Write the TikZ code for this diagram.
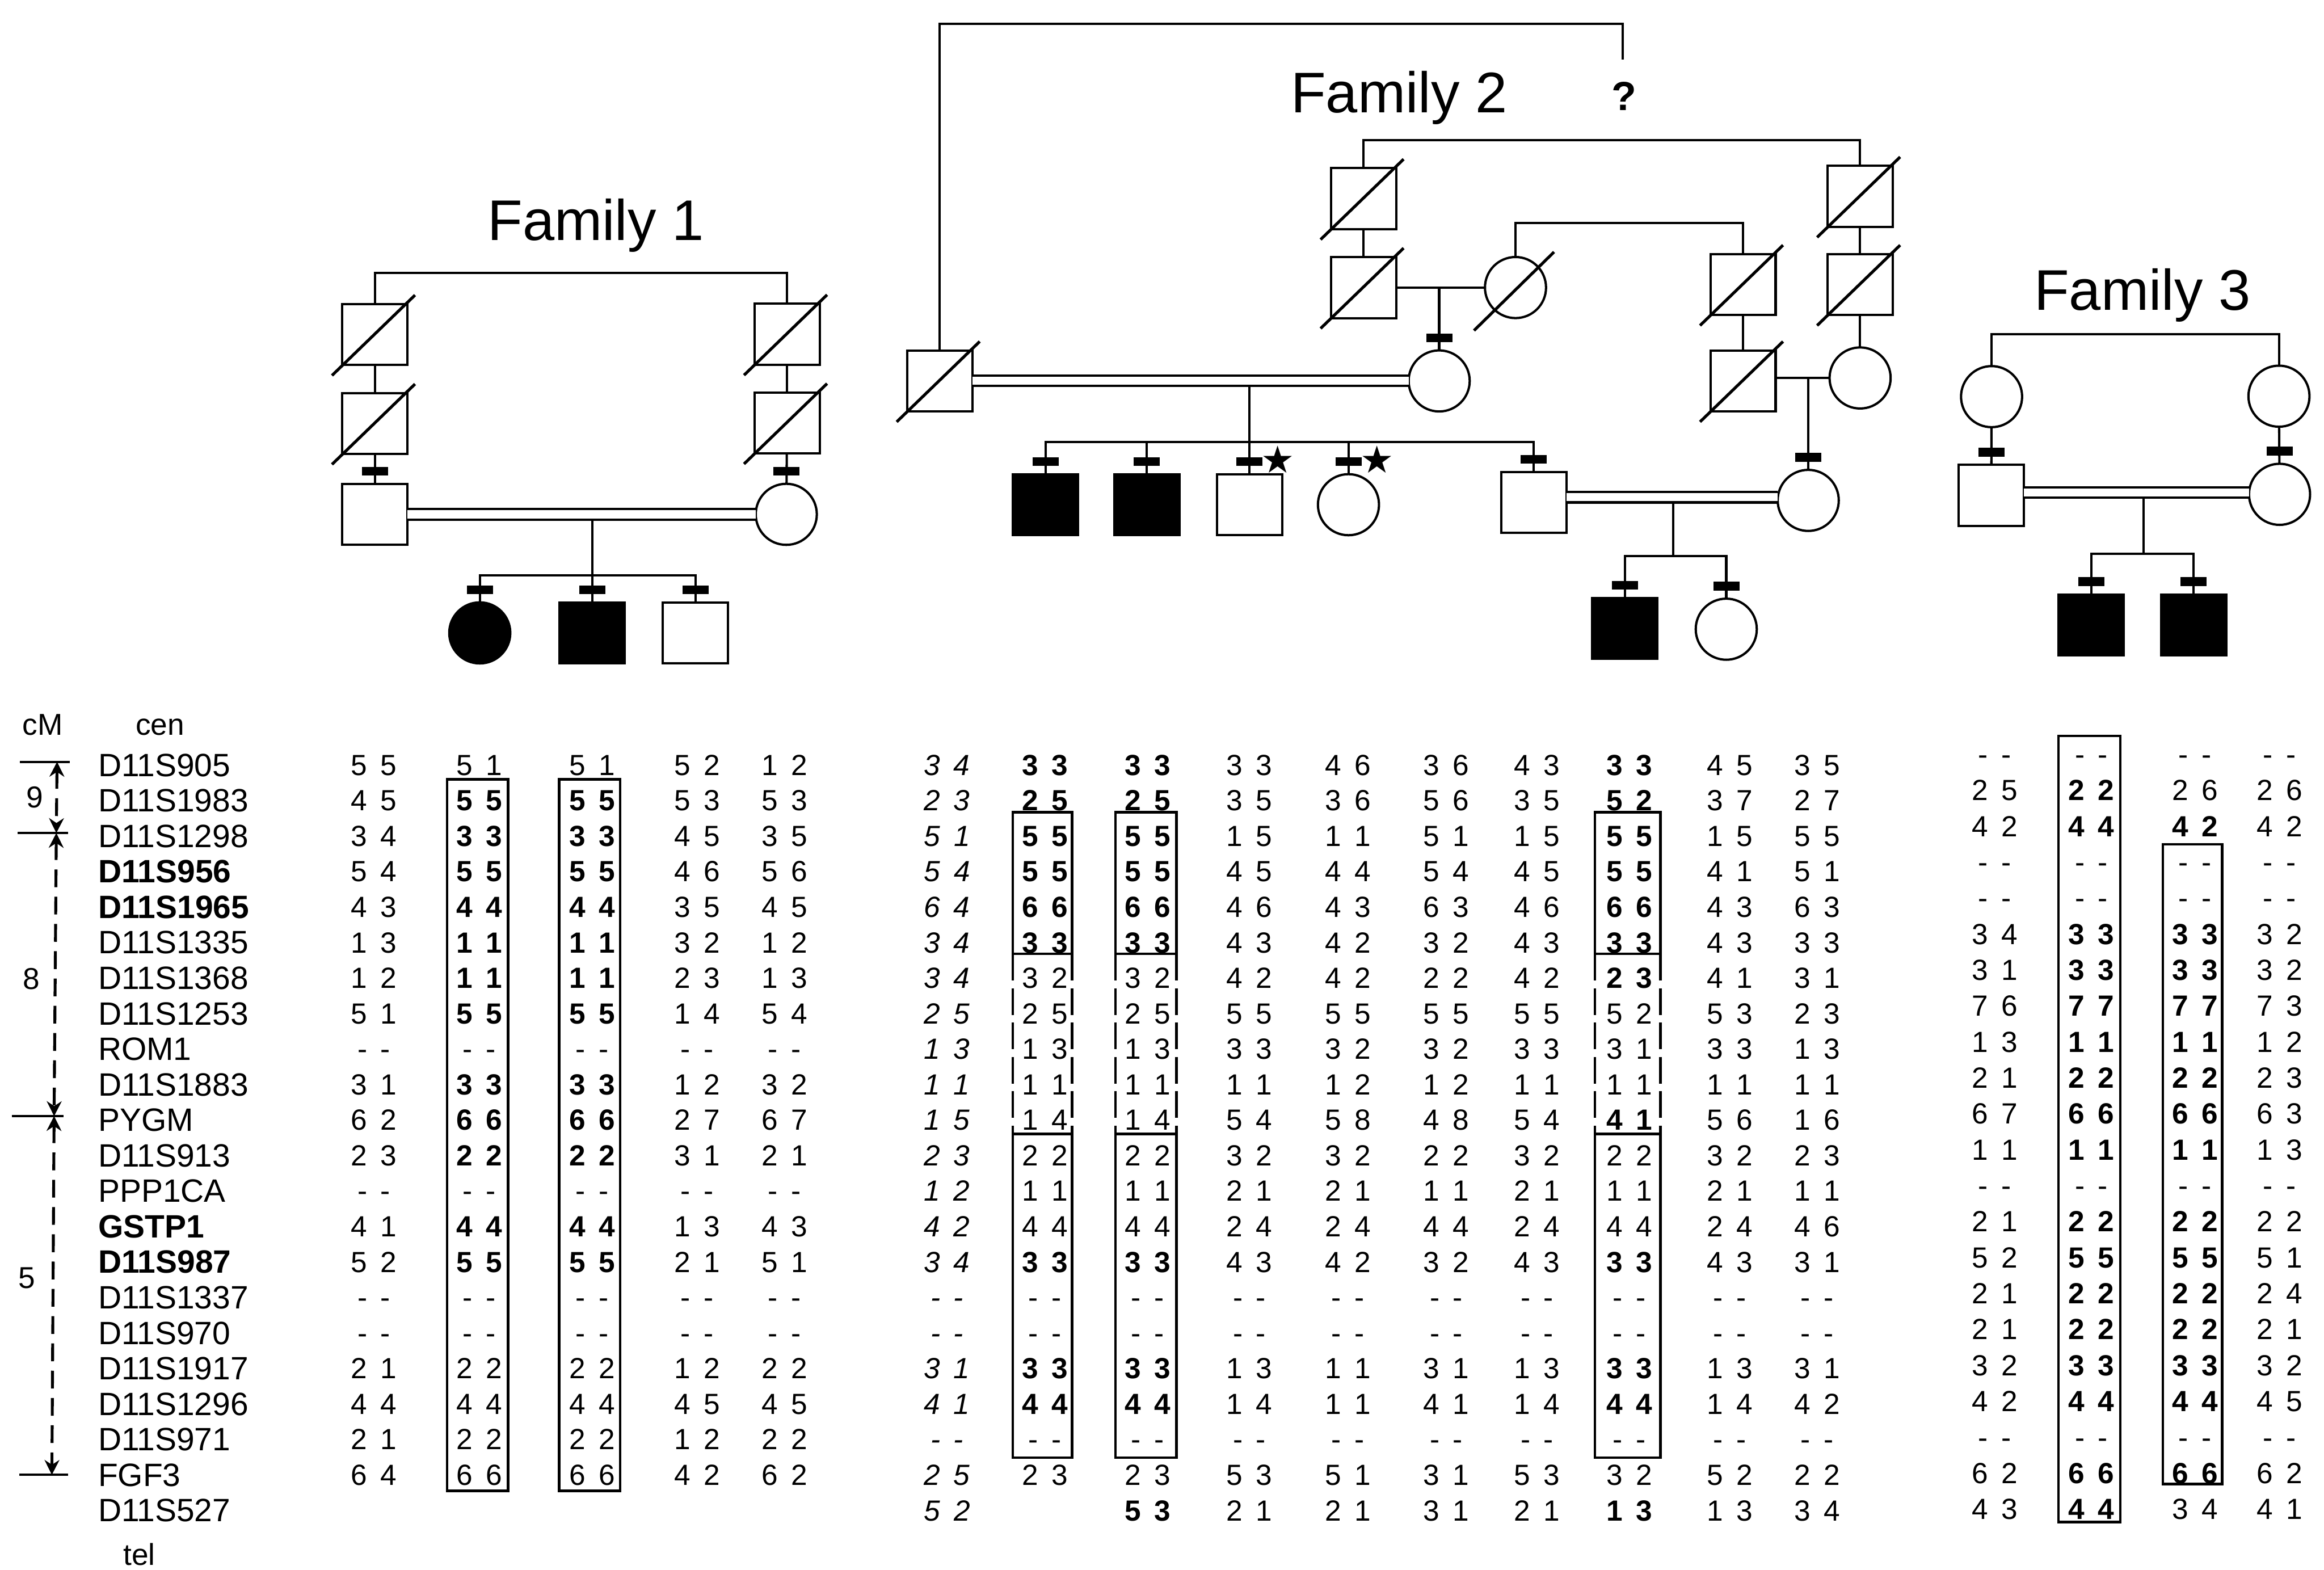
\documentclass[tikz,border=0pt]{standalone}
\usepackage{fontspec}
\setmainfont{Liberation Sans}
\newfontfamily\symfont{DejaVu Sans}
\usetikzlibrary{calc,arrows.meta}
\newcommand\GN[2]{#1\hspace{2.25mm}#2}
\newcommand\GB[2]{\textbf{#1}\hspace{2.25mm}\textbf{#2}}
\newcommand\GI[2]{\textit{#1}\hspace{2.25mm}\textit{#2}}
\newcommand\deceased[1]{\draw[slash] ($(#1.south west)+(-7,7)$) -- ($(#1.north east)+(5,-6)$);}
\newcommand\gtcol[5]{\foreach \v [count=\k] in {#5} {\node[gt] (#1-\k) at (#2,{#3+(\k-1)*#4+7}) {\v};}}
\newcommand\ftwobox[2]{%
  \draw[bx] (#1,548) rectangle (#2,643.5);
  \draw[bxd] (#1,643.5) -- (#1,765);
  \draw[bxd] (#2,643.5) -- (#2,765);
  \draw[bx] (#1,765) rectangle (#2,983.5);}
\tikzset{
  ln/.style={line width=1.1pt},
  sq/.style={draw, line width=1.1pt, rectangle, minimum width=11mm, minimum height=10.3mm, inner sep=0pt, outer sep=0pt},
  ci/.style={draw, line width=1.1pt, circle, minimum size=10.3mm, inner sep=0pt, outer sep=0pt},
  aff/.style={fill=black},
  slash/.style={line width=1.4pt},
  bar/.style={fill=black, rectangle, minimum width=4.4mm, minimum height=1.5mm, inner sep=0pt},
  dbl/.style={line width=1.1pt, double, double distance=1.35mm},
  title/.style={font=\fontsize{27.5pt}{30pt}\selectfont, anchor=base, inner sep=0pt},
  gt/.style={font=\fontsize{14pt}{16pt}\selectfont, anchor=base, inner sep=0pt},
  mk/.style={font=\fontsize{15.5pt}{17pt}\selectfont, anchor=base west, inner sep=0pt},
  lab/.style={font=\fontsize{14.5pt}{17pt}\selectfont, anchor=base, inner sep=0pt},
  starl/.style={font=\symfont\fontsize{18pt}{18pt}\selectfont, anchor=center, inner sep=0pt},
  bx/.style={line width=1.2pt},
  bxd/.style={line width=1.2pt, dash pattern=on 4.5mm off 1.3mm},
  scl/.style={line width=1.4pt, dash pattern=on 3mm off 1.6mm, >={Stealth[length=2.5mm,width=2.5mm]}},
  tick/.style={line width=1.1pt}
}
\begin{document}
\begin{tikzpicture}[x=0.25mm,y=-0.25mm]
\fill[white] (0,0) rectangle (1568,1059);
\useasboundingbox (0,0) rectangle (1568,1059);

%%%%%%%%%%%%%%%% Family 1
\node[title] (t1) at (402,162.3) {Family 1};
\node[sq] (f1a) at (253,225.7) {}; \deceased{f1a}
\node[sq] (f1b) at (253,285.7) {}; \deceased{f1b}
\node[sq] (f1f) at (253,347) {};
\node[sq] (f1p) at (531,225.5) {}; \deceased{f1p}
\node[sq] (f1q) at (531,285.4) {}; \deceased{f1q}
\node[ci] (f1m) at (530.5,347) {};
\node[ci,aff] (f1c1) at (323.7,427) {};
\node[sq,aff] (f1c2) at (399.5,427) {};
\node[sq] (f1c3) at (469.3,427) {};
\coordinate (f1top) at (392,184);
\draw[ln] (f1a.north) |- (f1top) -| (f1p.north);
\draw[ln] (f1a) -- (f1b);
\draw[ln] (f1b) -- (f1f);
\draw[ln] (f1p) -- (f1q);
\draw[ln] (f1q) -- (f1m);
\draw[dbl] (f1f) -- (f1m);
\coordinate (f1d) at (399.5,350.5);
\coordinate (f1s) at (399.5,388.2);
\draw[ln] (f1d) -- (f1c2.north);
\draw[ln] (f1c1.north) |- (f1s) -| (f1c3.north);
\foreach \n in {f1f,f1m,f1c1,f1c2,f1c3} \node[bar] (\n-bar) at ($(\n.north)+(0,-8.5)$) {};

%%%%%%%%%%%%%%%% Family 2
\node[title] (t2) at (944,76) {Family 2};
\node[font=\fontsize{19.5pt}{22pt}\selectfont\bfseries, anchor=base, inner sep=0pt] (f2qm) at (1095.7,74.5) {?};
\node[sq] (f2h) at (634,257) {}; \deceased{f2h}
\node[ci] (f2w) at (971,257) {};
\node[sq] (f2wgf) at (920,134) {}; \deceased{f2wgf}
\node[sq] (f2wf) at (920,194) {}; \deceased{f2wf}
\node[ci] (f2wm) at (1022.5,194) {};
\draw[slash] ($(f2wm.center)+(-28,29)$) -- ($(f2wm.center)+(26,-24)$);
\node[sq] (f2u1) at (1176,192) {}; \deceased{f2u1}
\node[sq] (f2u2) at (1176,257) {}; \deceased{f2u2}
\node[sq] (f2r1) at (1255,132.5) {}; \deceased{f2r1}
\node[sq] (f2r2) at (1255,192) {}; \deceased{f2r2}
\node[ci] (f2r3) at (1255,255) {};
\node[sq,aff] (f2c1) at (705.4,340.5) {};
\node[sq,aff] (f2c2) at (773.7,340.5) {};
\node[sq] (f2c3) at (843,340.5) {};
\node[ci] (f2c4) at (909.8,340.5) {};
\node[sq] (f2c5) at (1034.8,339) {};
\node[ci] (f2cw) at (1220,337.6) {};
\node[sq,aff] (f2g1) at (1096.3,424) {};
\node[ci] (f2g2) at (1164.7,424.5) {};
\node[starl] (f2s3) at ($(f2c3.north)+(19.3,-10)$) {★};
\node[starl] (f2s4) at ($(f2c4.north)+(19.3,-10)$) {★};
\coordinate (f2qt) at (1095,16);
\coordinate (f2qb) at (1095,40);
\draw[ln] (f2h.north) |- (f2qt) -- (f2qb);
\coordinate (f2t2) at (1088,94.6);
\draw[ln] (f2wgf.north) |- (f2t2) -| (f2r1.north);
\draw[ln] (f2wgf) -- (f2wf);
\draw[ln] (f2r1) -- (f2r2);
\draw[ln] (f2r2) -- (f2r3);
\draw[ln] (f2u1) -- (f2u2);
\coordinate (f2t3) at (1100,150.5);
\draw[ln] (f2wm.north) |- (f2t3) -| (f2u1.north);
\draw[ln] (f2wf) -- (f2wm);
\coordinate (f2wd) at (971,194);
\draw[ln] (f2wd) -- (f2w.north);
\draw[dbl] (f2h) -- (f2w);
\coordinate (f2m3) at (1215,255);
\draw[ln] (f2u2.east |- f2m3) -- (f2r3);
\coordinate (f2cwd) at (1220,255);
\draw[ln] (f2cwd) -- (f2cw.north);
\coordinate (f2d) at (843,260.5);
\coordinate (f2s) at (843,298.2);
\draw[ln] (f2d) -- (f2c3.north);
\draw[ln] (f2c1.north) |- (f2s) -| (f2c5.north);
\draw[ln] (f2c2.north) -- (f2c2.north |- f2s);
\draw[ln] (f2c4.north) -- (f2c4.north |- f2s);
\coordinate (f2m2) at (1128,335.5);
\draw[dbl] (f2c5.east |- f2m2) -- (f2cw.west |- f2m2);
\coordinate (f2gd) at (1128.8,339);
\coordinate (f2gs) at (1128.8,375);
\draw[ln] (f2gd) -- (f2gs);
\draw[ln] (f2g1.north) |- (f2gs) -| (f2g2.north);
\foreach \n in {f2w,f2c1,f2c2,f2c3,f2c4,f2c5,f2cw,f2g1,f2g2} \node[bar] (\n-bar) at ($(\n.north)+(0,-8.5)$) {};

%%%%%%%%%%%%%%%% Family 3
\node[title] (t3) at (1445.5,209.2) {Family 3};
\node[ci] (f3gl) at (1343.7,267.6) {};
\node[ci] (f3gr) at (1537.6,267.3) {};
\node[sq] (f3f) at (1343.5,334.2) {};
\node[ci] (f3m) at (1538,333.5) {};
\node[sq,aff] (f3c1) at (1411,421.6) {};
\node[sq,aff] (f3c2) at (1480,421.6) {};
\coordinate (f3t) at (1440,225.5);
\draw[ln] (f3gl.north) |- (f3t) -| (f3gr.north);
\draw[ln] (f3gl) -- (f3f);
\draw[ln] (f3gr) -- (f3m);
\coordinate (f3mm) at (1446,332.2);
\draw[dbl] (f3f.east |- f3mm) -- (f3m.west |- f3mm);
\coordinate (f3d) at (1446.4,335.7);
\coordinate (f3s) at (1446.4,373.5);
\draw[ln] (f3d) -- (f3s);
\draw[ln] (f3c1.north) |- (f3s) -| (f3c2.north);
\foreach \n in {f3f,f3m,f3c1,f3c2} \node[bar] (\n-bar) at ($(\n.north)+(0,-8.5)$) {};

%%%%%%%%%%%%%%%% scale and markers
\node[lab] (cm) at (28.7,495.8) {cM};
\node[lab] (cen) at (108,495.8) {cen};
\node[lab] (tel) at (94,1056) {tel};
\node[lab] (n9) at (23.5,544.8) {9};
\node[lab] (n8) at (21.3,667.5) {8};
\node[lab] (n5) at (18.3,869.3) {5};
\coordinate (k0l) at (13.5,514); \coordinate (k0r) at (47,514);
\coordinate (k1l) at (12,562); \coordinate (k1r) at (46,562);
\coordinate (k2l) at (8,753);  \coordinate (k2r) at (43,753);
\coordinate (k3l) at (13,995); \coordinate (k3r) at (46,995);
\draw[tick] (k0l) -- (k0r);
\draw[tick] (k1l) -- (k1r);
\draw[tick] (k2l) -- (k2r);
\draw[tick] (k3l) -- (k3r);
\coordinate (s0) at (38.5,514);
\coordinate (s1) at (38,562);
\coordinate (s2) at (36.5,753);
\coordinate (s3) at (35,995);
\draw[scl,<->] (s0) -- (s1);
\draw[scl,<->] (s1) -- (s2);
\draw[scl,<->] (s2) -- (s3);
\foreach \m [count=\k] in {D11S905,D11S1983,D11S1298,\textbf{D11S956},\textbf{D11S1965},D11S1335,D11S1368,D11S1253,ROM1,D11S1883,PYGM,D11S913,PPP1CA,\textbf{GSTP1},\textbf{D11S987},D11S1337,D11S970,D11S1917,D11S1296,D11S971,FGF3,D11S527}
  \node[mk] (mk\k) at (66,{516+(\k-1)*23.95+7.7}) {\m};

%%%%%%%%%%%%%%%% Family 1 table
\gtcol{a1}{252.3}{516}{23.95}{\GN55,\GN45,\GN34,\GN54,\GN43,\GN13,\GN12,\GN51,\GN--,\GN31,\GN62,\GN23,\GN--,\GN41,\GN52,\GN--,\GN--,\GN21,\GN44,\GN21,\GN64}
\gtcol{a2}{323.3}{516}{23.95}{\GN51,\GB55,\GB33,\GB55,\GB44,\GB11,\GB11,\GB55,\GN--,\GB33,\GB66,\GB22,\GN--,\GB44,\GB55,\GN--,\GN--,\GN22,\GN44,\GN22,\GN66}
\gtcol{a3}{399.5}{516}{23.95}{\GN51,\GB55,\GB33,\GB55,\GB44,\GB11,\GB11,\GB55,\GN--,\GB33,\GB66,\GB22,\GN--,\GB44,\GB55,\GN--,\GN--,\GN22,\GN44,\GN22,\GN66}
\gtcol{a4}{470.3}{516}{23.95}{\GN52,\GN53,\GN45,\GN46,\GN35,\GN32,\GN23,\GN14,\GN--,\GN12,\GN27,\GN31,\GN--,\GN13,\GN21,\GN--,\GN--,\GN12,\GN45,\GN12,\GN42}
\gtcol{a5}{529.3}{516}{23.95}{\GN12,\GN53,\GN35,\GN56,\GN45,\GN12,\GN13,\GN54,\GN--,\GN32,\GN67,\GN21,\GN--,\GN43,\GN51,\GN--,\GN--,\GN22,\GN45,\GN22,\GN62}
\draw[bx] (301.6,525.8) rectangle (342.8,1005.8);
\draw[bx] (377.3,525.8) rectangle (418.5,1005.8);

%%%%%%%%%%%%%%%% Family 2 table
\gtcol{b1}{639}{516}{23.95}{\GI34,\GI23,\GI51,\GI54,\GI64,\GI34,\GI34,\GI25,\GI13,\GI11,\GI15,\GI23,\GI12,\GI42,\GI34,\GI--,\GI--,\GI31,\GI41,\GI--,\GI25,\GI52}
\gtcol{b2}{705}{516}{23.95}{\GB33,\GB25,\GB55,\GB55,\GB66,\GB33,\GN32,\GN25,\GN13,\GN11,\GN14,\GN22,\GN11,\GN44,\GB33,\GN--,\GN--,\GB33,\GB44,\GN--,\GN23}
\gtcol{b3}{774.3}{516}{23.95}{\GB33,\GB25,\GB55,\GB55,\GB66,\GB33,\GN32,\GN25,\GN13,\GN11,\GN14,\GN22,\GN11,\GN44,\GB33,\GN--,\GN--,\GB33,\GB44,\GN--,\GN23,\GB53}
\gtcol{b4}{843}{516}{23.95}{\GN33,\GN35,\GN15,\GN45,\GN46,\GN43,\GN42,\GN55,\GN33,\GN11,\GN54,\GN32,\GN21,\GN24,\GN43,\GN--,\GN--,\GN13,\GN14,\GN--,\GN53,\GN21}
\gtcol{b5}{909.4}{516}{23.95}{\GN46,\GN36,\GN11,\GN44,\GN43,\GN42,\GN42,\GN55,\GN32,\GN12,\GN58,\GN32,\GN21,\GN24,\GN42,\GN--,\GN--,\GN11,\GN11,\GN--,\GN51,\GN21}
\gtcol{b6}{975.8}{516}{23.95}{\GN36,\GN56,\GN51,\GN54,\GN63,\GN32,\GN22,\GN55,\GN32,\GN12,\GN48,\GN22,\GN11,\GN44,\GN32,\GN--,\GN--,\GN31,\GN41,\GN--,\GN31,\GN31}
\gtcol{b7}{1037}{516}{23.95}{\GN43,\GN35,\GN15,\GN45,\GN46,\GN43,\GN42,\GN55,\GN33,\GN11,\GN54,\GN32,\GN21,\GN24,\GN43,\GN--,\GN--,\GN13,\GN14,\GN--,\GN53,\GN21}
\gtcol{b8}{1099.3}{516}{23.95}{\GB33,\GB52,\GB55,\GB55,\GB66,\GB33,\GB23,\GN52,\GN31,\GN11,\GB41,\GN22,\GN11,\GN44,\GB33,\GN--,\GN--,\GB33,\GB44,\GN--,\GN32,\GB13}
\gtcol{b9}{1167}{516}{23.95}{\GN45,\GN37,\GN15,\GN41,\GN43,\GN43,\GN41,\GN53,\GN33,\GN11,\GN56,\GN32,\GN21,\GN24,\GN43,\GN--,\GN--,\GN13,\GN14,\GN--,\GN52,\GN13}
\gtcol{b10}{1225.9}{516}{23.95}{\GN35,\GN27,\GN55,\GN51,\GN63,\GN33,\GN31,\GN23,\GN13,\GN11,\GN16,\GN23,\GN11,\GN46,\GN31,\GN--,\GN--,\GN31,\GN42,\GN--,\GN22,\GN34}
\ftwobox{683.4}{723.3}
\ftwobox{752.7}{793.7}
\ftwobox{1076.1}{1120.3}

%%%%%%%%%%%%%%%% Family 3 table
\gtcol{c1}{1345.8}{508.8}{24.25}{\GN--,\GN25,\GN42,\GN--,\GN--,\GN34,\GN31,\GN76,\GN13,\GN21,\GN67,\GN11,\GN--,\GN21,\GN52,\GN21,\GN21,\GN32,\GN42,\GN--,\GN62,\GN43}
\gtcol{c2}{1411}{508.8}{24.25}{\GN--,\GB22,\GB44,\GN--,\GN--,\GB33,\GB33,\GB77,\GB11,\GB22,\GB66,\GB11,\GN--,\GB22,\GB55,\GB22,\GB22,\GB33,\GB44,\GN--,\GB66,\GB44}
\gtcol{c3}{1480.9}{508.8}{24.25}{\GN--,\GN26,\GB42,\GN--,\GN--,\GB33,\GB33,\GB77,\GB11,\GB22,\GB66,\GB11,\GN--,\GB22,\GB55,\GB22,\GB22,\GB33,\GB44,\GN--,\GB66,\GN34}
\gtcol{c4}{1538}{508.8}{24.25}{\GN--,\GN26,\GN42,\GN--,\GN--,\GN32,\GN32,\GN73,\GN12,\GN23,\GN63,\GN13,\GN--,\GN22,\GN51,\GN24,\GN21,\GN32,\GN45,\GN--,\GN62,\GN41}
\draw[bx] (1388.9,496.5) rectangle (1430.5,1026.9);
\draw[bx] (1459.2,569.6) rectangle (1499.2,1001.3);
\end{tikzpicture}
\end{document}
